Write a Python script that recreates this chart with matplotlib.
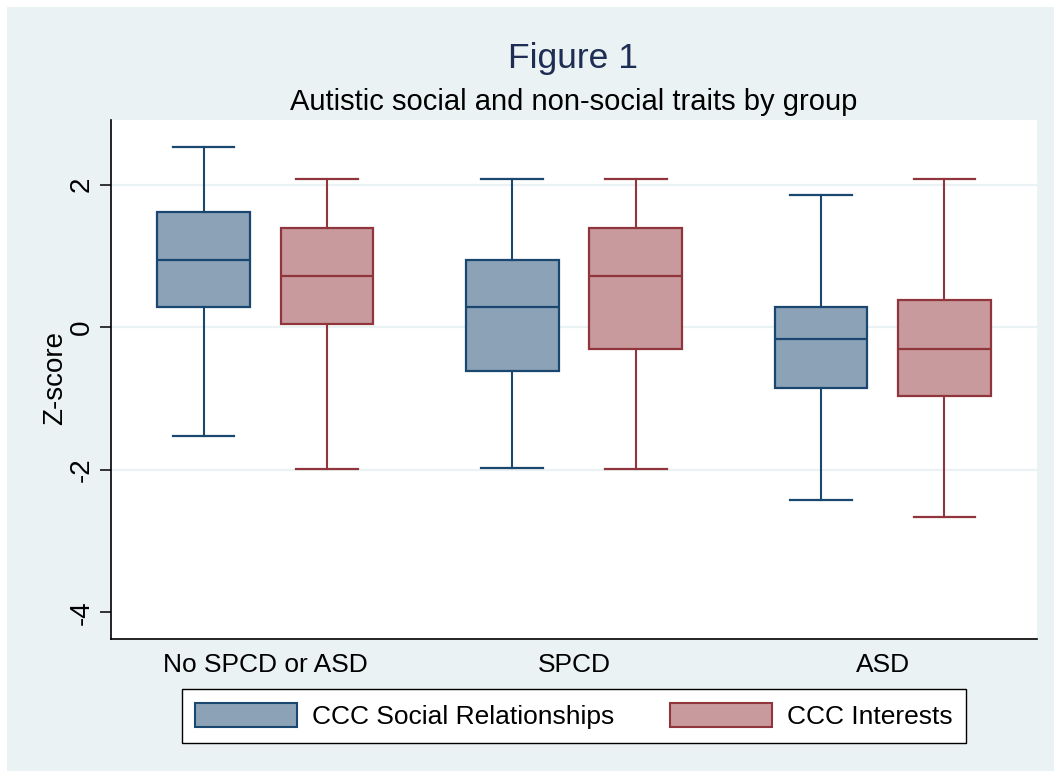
import matplotlib
matplotlib.use("Agg")
import matplotlib.pyplot as plt
from matplotlib.patches import Rectangle, Patch

plt.rcParams['font.family'] = ['Liberation Sans', 'DejaVu Sans']

# ---- data ----
groups = ["No SPCD or ASD", "SPCD", "ASD"]
series = ["CCC Social Relationships", "CCC Interests"]
# whisker low, Q1, median, Q3, whisker high
social_low  = [-1.52, -1.97, -2.42]
social_q1   = [0.28, -0.62, -0.85]
social_med  = [0.95, 0.28, -0.17]
social_q3   = [1.62, 0.95, 0.28]
social_high = [2.53, 2.08, 1.85]

interest_low  = [-1.99, -1.99, -2.66]
interest_q1   = [0.05, -0.30, -0.97]
interest_med  = [0.72, 0.72, -0.30]
interest_q3   = [1.40, 1.40, 0.38]
interest_high = [2.08, 2.08, 2.08]

yticks = [-4, -2, 0, 2]

# ---- styles ----
BG = '#EAF2F3'
NAVY = '#1A476F'
NAVY_FILL = '#8CA3B7'
MAROON = '#90353B'
MAROON_FILL = '#C89A9D'

W, H = 1054, 771
fig = plt.figure(figsize=(W / 100, H / 100), dpi=100)
fig.patch.set_facecolor('white')
fig.add_artist(Rectangle((7 / W, 0), 1, 1 - 7 / H, transform=fig.transFigure,
                         facecolor=BG, edgecolor='none', zorder=-10))

ax = fig.add_axes([111 / W, 1 - 639 / H, 926 / W, 519 / H])
ax.set_facecolor('white')
ax.set_xlim(-0.5, 2.5)
ax.set_ylim(-4.375, 2.909)


def make_stats(low, q1, med, q3, high):
    return [dict(whislo=a, q1=b, med=c, q3=d, whishi=e, fliers=[])
            for a, b, c, d, e in zip(low, q1, med, q3, high)]


def draw(stats, offset, edge, fill):
    pos = [i + offset for i in range(len(groups))]
    ax.bxp(stats, positions=pos, widths=0.30, capwidths=0.20,
           patch_artist=True, showfliers=False, manage_ticks=False,
           boxprops=dict(facecolor=fill, edgecolor=edge, linewidth=1.6),
           medianprops=dict(color=edge, linewidth=1.6),
           whiskerprops=dict(color=edge, linewidth=1.5),
           capprops=dict(color=edge, linewidth=1.6), zorder=3)


draw(make_stats(social_low, social_q1, social_med, social_q3, social_high),
     -0.2, NAVY, NAVY_FILL)
draw(make_stats(interest_low, interest_q1, interest_med, interest_q3, interest_high),
     0.2, MAROON, MAROON_FILL)

# gridlines (not on the lowest tick)
for yv in yticks:
    if yv != yticks[0]:
        ax.axhline(yv, color=BG, linewidth=1.6, zorder=1)

for s in ['top', 'right']:
    ax.spines[s].set_visible(False)
for s in ['left', 'bottom']:
    ax.spines[s].set_color('black')
    ax.spines[s].set_linewidth(1.2)

ax.set_yticks(yticks)
ax.set_yticklabels([str(v) for v in yticks])
ax.tick_params(axis='y', length=8, width=1.1, pad=8, labelsize=20, colors='black')
for lab in ax.get_yticklabels():
    lab.set_rotation(90)
    lab.set_rotation_mode('anchor')
    lab.set_ha('center')
    lab.set_va('baseline')

ax.set_xticks(range(len(groups)))
ax.set_xticklabels(groups)
ax.tick_params(axis='x', length=0, pad=24, labelsize=19)
for lab in ax.get_xticklabels():
    lab.set_va('baseline')

fig.text(62 / W, 1 - 378 / H, 'Z-score', rotation=90, rotation_mode='anchor',
         ha='center', va='baseline', fontsize=20, color='black')

fig.text(573 / W, 1 - 68 / H, 'Figure 1', ha='center', va='baseline',
         fontsize=25.5, color='#1E2D53')
fig.text(574 / W, 1 - 110 / H, 'Autistic social and non-social traits by group',
         ha='center', va='baseline', fontsize=21, color='black')

handles = [Patch(facecolor=NAVY_FILL, edgecolor=NAVY, linewidth=1.5),
           Patch(facecolor=MAROON_FILL, edgecolor=MAROON, linewidth=1.5)]
leg = fig.legend(handles, series, loc='center', bbox_to_anchor=(574 / W, 1 - 716 / H),
                 ncol=2, fontsize=19, handlelength=3.86, handleheight=1.06,
                 handletextpad=0.57, columnspacing=2.1, borderpad=0.52,
                 fancybox=False, framealpha=1, edgecolor='black')
leg.get_frame().set_linewidth(1.0)

fig.savefig('out.png', dpi=100, facecolor=fig.get_facecolor())
